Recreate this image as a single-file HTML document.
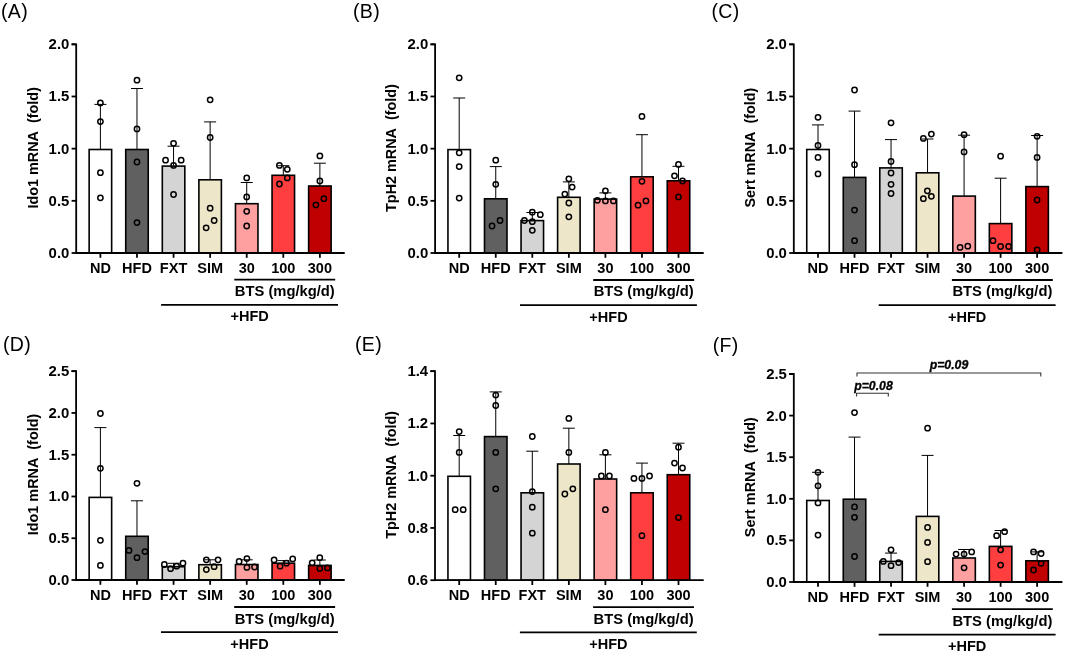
<!DOCTYPE html>
<html><head><meta charset="utf-8"><title>Figure</title>
<style>
html,body{margin:0;padding:0;background:#fff;}
body{width:1065px;height:653px;overflow:hidden;}
svg{display:block;font-family:"Liberation Sans", sans-serif;will-change:transform;}
.pl{font-size:19.5px;font-weight:400;fill:#000;letter-spacing:0.35px;}
.yt{font-size:14.4px;font-weight:700;fill:#000;}
.tl{font-size:14.5px;font-weight:700;fill:#000;}
.tk{font-size:14.9px;font-weight:700;fill:#000;}
.pv{font-size:12.3px;font-weight:700;font-style:italic;fill:#000;stroke:#000;stroke-width:0.3px;}
.ax{stroke:#000;stroke-width:1.8;}
.bar{stroke:#000;stroke-width:1.6;}
.eb{stroke:#000;stroke-width:1.0;}
.br{stroke:#000;stroke-width:1.8;}
.pb{stroke:#333;stroke-width:1.1;}
.dot{fill:none;stroke:#000;stroke-width:1.5;}
</style></head>
<body>
<svg width="1065" height="653" viewBox="0 0 1065 653">
<rect width="1065" height="653" fill="#fff"/>
<text x="1" y="17.8" class="pl">(A)</text>
<text transform="translate(37.7,147.8) rotate(-90)" text-anchor="middle" class="yt">Ido1 mRNA&#160; (fold)</text>
<line x1="100.4" y1="104.4" x2="100.4" y2="149.5" class="eb"/>
<line x1="94.4" y1="104.4" x2="106.4" y2="104.4" class="eb"/>
<rect x="89.15" y="149.5" width="22.5" height="103.5" fill="#ffffff" class="bar"/>
<circle cx="100.4" cy="102.9" r="2.65" class="dot"/>
<circle cx="100.4" cy="121.6" r="2.65" class="dot"/>
<circle cx="100.4" cy="172.7" r="2.65" class="dot"/>
<circle cx="100.4" cy="197.8" r="2.65" class="dot"/>
<line x1="100.4" y1="253" x2="100.4" y2="257.8" class="ax"/>
<text x="100.4" y="272.5" text-anchor="middle" class="tl">ND</text>
<line x1="136.98" y1="88.5" x2="136.98" y2="149.5" class="eb"/>
<line x1="130.98" y1="88.5" x2="142.98" y2="88.5" class="eb"/>
<rect x="125.73" y="149.5" width="22.5" height="103.5" fill="#606060" class="bar"/>
<circle cx="136.98" cy="80.2" r="2.65" class="dot"/>
<circle cx="136.98" cy="128.9" r="2.65" class="dot"/>
<circle cx="136.98" cy="162" r="2.65" class="dot"/>
<circle cx="136.98" cy="222.6" r="2.65" class="dot"/>
<line x1="136.98" y1="253" x2="136.98" y2="257.8" class="ax"/>
<text x="136.98" y="272.5" text-anchor="middle" class="tl">HFD</text>
<line x1="173.56" y1="146.2" x2="173.56" y2="166.1" class="eb"/>
<line x1="167.56" y1="146.2" x2="179.56" y2="146.2" class="eb"/>
<rect x="162.31" y="166.1" width="22.5" height="86.9" fill="#d4d4d4" class="bar"/>
<circle cx="173.56" cy="143.3" r="2.65" class="dot"/>
<circle cx="165.56" cy="160.2" r="2.65" class="dot"/>
<circle cx="181.16" cy="160.2" r="2.65" class="dot"/>
<circle cx="173.56" cy="165.4" r="2.65" class="dot"/>
<circle cx="173.56" cy="194.5" r="2.65" class="dot"/>
<line x1="173.56" y1="253" x2="173.56" y2="257.8" class="ax"/>
<text x="173.56" y="272.5" text-anchor="middle" class="tl">FXT</text>
<line x1="210.14" y1="121.9" x2="210.14" y2="179.8" class="eb"/>
<line x1="204.14" y1="121.9" x2="216.14" y2="121.9" class="eb"/>
<rect x="198.89" y="179.8" width="22.5" height="73.2" fill="#ede6c9" class="bar"/>
<circle cx="210.14" cy="99.8" r="2.65" class="dot"/>
<circle cx="210.14" cy="137.5" r="2.65" class="dot"/>
<circle cx="210.14" cy="208.2" r="2.65" class="dot"/>
<circle cx="214.14" cy="220.5" r="2.65" class="dot"/>
<circle cx="206.14" cy="227.8" r="2.65" class="dot"/>
<line x1="210.14" y1="253" x2="210.14" y2="257.8" class="ax"/>
<text x="210.14" y="272.5" text-anchor="middle" class="tl">SIM</text>
<line x1="246.72" y1="182.5" x2="246.72" y2="203.7" class="eb"/>
<line x1="240.72" y1="182.5" x2="252.72" y2="182.5" class="eb"/>
<rect x="235.47" y="203.7" width="22.5" height="49.3" fill="#ffa0a0" class="bar"/>
<circle cx="246.72" cy="177.9" r="2.65" class="dot"/>
<circle cx="246.72" cy="196.9" r="2.65" class="dot"/>
<circle cx="246.72" cy="211.3" r="2.65" class="dot"/>
<circle cx="246.72" cy="226" r="2.65" class="dot"/>
<line x1="246.72" y1="253" x2="246.72" y2="257.8" class="ax"/>
<text x="246.72" y="272.5" text-anchor="middle" class="tl">30</text>
<line x1="283.3" y1="165.7" x2="283.3" y2="175.3" class="eb"/>
<line x1="277.3" y1="165.7" x2="289.3" y2="165.7" class="eb"/>
<rect x="272.05" y="175.3" width="22.5" height="77.7" fill="#ff3f3f" class="bar"/>
<circle cx="279.4" cy="165.4" r="2.65" class="dot"/>
<circle cx="287.3" cy="169.3" r="2.65" class="dot"/>
<circle cx="287.3" cy="177.9" r="2.65" class="dot"/>
<circle cx="279.4" cy="184" r="2.65" class="dot"/>
<line x1="283.3" y1="253" x2="283.3" y2="257.8" class="ax"/>
<text x="283.3" y="272.5" text-anchor="middle" class="tl">100</text>
<line x1="319.88" y1="163.2" x2="319.88" y2="186" class="eb"/>
<line x1="313.88" y1="163.2" x2="325.88" y2="163.2" class="eb"/>
<rect x="308.63" y="186" width="22.5" height="67" fill="#c00000" class="bar"/>
<circle cx="319.88" cy="155.9" r="2.65" class="dot"/>
<circle cx="319.88" cy="181" r="2.65" class="dot"/>
<circle cx="323.88" cy="198.7" r="2.65" class="dot"/>
<circle cx="315.88" cy="204.9" r="2.65" class="dot"/>
<line x1="319.88" y1="253" x2="319.88" y2="257.8" class="ax"/>
<text x="319.88" y="272.5" text-anchor="middle" class="tl">300</text>
<path d="M71.6 44.3H76.2V253H344.7" class="ax" fill="none"/>
<line x1="71.6" y1="253" x2="76.2" y2="253" class="ax"/>
<text x="69.3" y="257.9" text-anchor="end" class="tk">0.0</text>
<line x1="71.6" y1="200.82" x2="76.2" y2="200.82" class="ax"/>
<text x="69.3" y="205.72" text-anchor="end" class="tk">0.5</text>
<line x1="71.6" y1="148.65" x2="76.2" y2="148.65" class="ax"/>
<text x="69.3" y="153.55" text-anchor="end" class="tk">1.0</text>
<line x1="71.6" y1="96.48" x2="76.2" y2="96.48" class="ax"/>
<text x="69.3" y="101.38" text-anchor="end" class="tk">1.5</text>
<line x1="71.6" y1="44.3" x2="76.2" y2="44.3" class="ax"/>
<text x="69.3" y="49.2" text-anchor="end" class="tk">2.0</text>
<line x1="234.3" y1="279.6" x2="335.2" y2="279.6" class="br"/>
<text x="284.8" y="295.9" text-anchor="middle" class="tl" style="font-size:14.75px">BTS (mg/kg/d)</text>
<line x1="161.1" y1="304.8" x2="338" y2="304.8" class="br"/>
<text x="249.6" y="321.3" text-anchor="middle" class="tl">+HFD</text>
<text x="353" y="17.8" class="pl">(B)</text>
<text transform="translate(395.9,148) rotate(-90)" text-anchor="middle" class="yt">TpH2 mRNA&#160; (fold)</text>
<line x1="459.2" y1="98" x2="459.2" y2="149.6" class="eb"/>
<line x1="453.2" y1="98" x2="465.2" y2="98" class="eb"/>
<rect x="447.95" y="149.6" width="22.5" height="103.4" fill="#ffffff" class="bar"/>
<circle cx="459.2" cy="77.8" r="2.65" class="dot"/>
<circle cx="459.2" cy="152.8" r="2.65" class="dot"/>
<circle cx="459.2" cy="166.6" r="2.65" class="dot"/>
<circle cx="459.2" cy="198.1" r="2.65" class="dot"/>
<line x1="459.2" y1="253" x2="459.2" y2="257.8" class="ax"/>
<text x="459.2" y="272.8" text-anchor="middle" class="tl">ND</text>
<line x1="495.75" y1="166.6" x2="495.75" y2="198.8" class="eb"/>
<line x1="489.75" y1="166.6" x2="501.75" y2="166.6" class="eb"/>
<rect x="484.5" y="198.8" width="22.5" height="54.2" fill="#606060" class="bar"/>
<circle cx="495.75" cy="160.2" r="2.65" class="dot"/>
<circle cx="495.75" cy="184.3" r="2.65" class="dot"/>
<circle cx="500.05" cy="220.5" r="2.65" class="dot"/>
<circle cx="492.05" cy="226" r="2.65" class="dot"/>
<line x1="495.75" y1="253" x2="495.75" y2="257.8" class="ax"/>
<text x="495.75" y="272.8" text-anchor="middle" class="tl">HFD</text>
<line x1="532.3" y1="212.5" x2="532.3" y2="220.6" class="eb"/>
<line x1="526.3" y1="212.5" x2="538.3" y2="212.5" class="eb"/>
<rect x="521.05" y="220.6" width="22.5" height="32.4" fill="#d4d4d4" class="bar"/>
<circle cx="532.3" cy="212.2" r="2.65" class="dot"/>
<circle cx="540.3" cy="214.7" r="2.65" class="dot"/>
<circle cx="524.4" cy="220.5" r="2.65" class="dot"/>
<circle cx="532.3" cy="221.7" r="2.65" class="dot"/>
<circle cx="532.3" cy="230.3" r="2.65" class="dot"/>
<line x1="532.3" y1="253" x2="532.3" y2="257.8" class="ax"/>
<text x="532.3" y="272.8" text-anchor="middle" class="tl">FXT</text>
<line x1="568.85" y1="181.9" x2="568.85" y2="197.3" class="eb"/>
<line x1="562.85" y1="181.9" x2="574.85" y2="181.9" class="eb"/>
<rect x="557.6" y="197.3" width="22.5" height="55.7" fill="#ede6c9" class="bar"/>
<circle cx="568.85" cy="178.8" r="2.65" class="dot"/>
<circle cx="572.15" cy="187.1" r="2.65" class="dot"/>
<circle cx="564.85" cy="194.1" r="2.65" class="dot"/>
<circle cx="568.85" cy="203" r="2.65" class="dot"/>
<circle cx="568.85" cy="216.8" r="2.65" class="dot"/>
<line x1="568.85" y1="253" x2="568.85" y2="257.8" class="ax"/>
<text x="568.85" y="272.8" text-anchor="middle" class="tl">SIM</text>
<line x1="605.4" y1="192.9" x2="605.4" y2="199.1" class="eb"/>
<line x1="599.4" y1="192.9" x2="611.4" y2="192.9" class="eb"/>
<rect x="594.15" y="199.1" width="22.5" height="53.9" fill="#ffa0a0" class="bar"/>
<circle cx="605.4" cy="190.8" r="2.65" class="dot"/>
<circle cx="597.4" cy="200.3" r="2.65" class="dot"/>
<circle cx="605.4" cy="200.9" r="2.65" class="dot"/>
<circle cx="613.4" cy="200.9" r="2.65" class="dot"/>
<line x1="605.4" y1="253" x2="605.4" y2="257.8" class="ax"/>
<text x="605.4" y="272.8" text-anchor="middle" class="tl">30</text>
<line x1="641.95" y1="134.7" x2="641.95" y2="176.8" class="eb"/>
<line x1="635.95" y1="134.7" x2="647.95" y2="134.7" class="eb"/>
<rect x="630.7" y="176.8" width="22.5" height="76.2" fill="#ff3f3f" class="bar"/>
<circle cx="641.95" cy="116.4" r="2.65" class="dot"/>
<circle cx="641.95" cy="181.3" r="2.65" class="dot"/>
<circle cx="645.95" cy="200.9" r="2.65" class="dot"/>
<circle cx="638.05" cy="205.2" r="2.65" class="dot"/>
<line x1="641.95" y1="253" x2="641.95" y2="257.8" class="ax"/>
<text x="641.95" y="272.8" text-anchor="middle" class="tl">100</text>
<line x1="678.5" y1="166.3" x2="678.5" y2="180.8" class="eb"/>
<line x1="672.5" y1="166.3" x2="684.5" y2="166.3" class="eb"/>
<rect x="667.25" y="180.8" width="22.5" height="72.2" fill="#c00000" class="bar"/>
<circle cx="678.5" cy="164.4" r="2.65" class="dot"/>
<circle cx="674.5" cy="175.8" r="2.65" class="dot"/>
<circle cx="682.5" cy="181" r="2.65" class="dot"/>
<circle cx="678.5" cy="196.9" r="2.65" class="dot"/>
<line x1="678.5" y1="253" x2="678.5" y2="257.8" class="ax"/>
<text x="678.5" y="272.8" text-anchor="middle" class="tl">300</text>
<path d="M430.5 44.3H435.1V253H703.7" class="ax" fill="none"/>
<line x1="430.5" y1="253" x2="435.1" y2="253" class="ax"/>
<text x="428.2" y="257.9" text-anchor="end" class="tk">0.0</text>
<line x1="430.5" y1="200.82" x2="435.1" y2="200.82" class="ax"/>
<text x="428.2" y="205.72" text-anchor="end" class="tk">0.5</text>
<line x1="430.5" y1="148.65" x2="435.1" y2="148.65" class="ax"/>
<text x="428.2" y="153.55" text-anchor="end" class="tk">1.0</text>
<line x1="430.5" y1="96.48" x2="435.1" y2="96.48" class="ax"/>
<text x="428.2" y="101.38" text-anchor="end" class="tk">1.5</text>
<line x1="430.5" y1="44.3" x2="435.1" y2="44.3" class="ax"/>
<text x="428.2" y="49.2" text-anchor="end" class="tk">2.0</text>
<line x1="593.2" y1="280" x2="694.1" y2="280" class="br"/>
<text x="643.7" y="296.4" text-anchor="middle" class="tl" style="font-size:14.75px">BTS (mg/kg/d)</text>
<line x1="520" y1="305.2" x2="696.9" y2="305.2" class="br"/>
<text x="608.5" y="321.6" text-anchor="middle" class="tl">+HFD</text>
<text x="711.5" y="17.8" class="pl">(C)</text>
<text transform="translate(755.3,147.6) rotate(-90)" text-anchor="middle" class="yt">Sert mRNA&#160; (fold)</text>
<line x1="818" y1="124.9" x2="818" y2="149.5" class="eb"/>
<line x1="812" y1="124.9" x2="824" y2="124.9" class="eb"/>
<rect x="806.75" y="149.5" width="22.5" height="103.5" fill="#ffffff" class="bar"/>
<circle cx="818" cy="117.3" r="2.65" class="dot"/>
<circle cx="818" cy="145.5" r="2.65" class="dot"/>
<circle cx="818" cy="157.4" r="2.65" class="dot"/>
<circle cx="818" cy="173.9" r="2.65" class="dot"/>
<line x1="818" y1="253" x2="818" y2="257.8" class="ax"/>
<text x="818" y="272.8" text-anchor="middle" class="tl">ND</text>
<line x1="854.52" y1="111.1" x2="854.52" y2="177.4" class="eb"/>
<line x1="848.52" y1="111.1" x2="860.52" y2="111.1" class="eb"/>
<rect x="843.27" y="177.4" width="22.5" height="75.6" fill="#606060" class="bar"/>
<circle cx="854.52" cy="90" r="2.65" class="dot"/>
<circle cx="854.52" cy="164.7" r="2.65" class="dot"/>
<circle cx="854.52" cy="210.1" r="2.65" class="dot"/>
<circle cx="854.52" cy="240.7" r="2.65" class="dot"/>
<line x1="854.52" y1="253" x2="854.52" y2="257.8" class="ax"/>
<text x="854.52" y="272.8" text-anchor="middle" class="tl">HFD</text>
<line x1="891.04" y1="139.6" x2="891.04" y2="167.9" class="eb"/>
<line x1="885.04" y1="139.6" x2="897.04" y2="139.6" class="eb"/>
<rect x="879.79" y="167.9" width="22.5" height="85.1" fill="#d4d4d4" class="bar"/>
<circle cx="891.04" cy="122.8" r="2.65" class="dot"/>
<circle cx="891.04" cy="161.4" r="2.65" class="dot"/>
<circle cx="891.04" cy="173" r="2.65" class="dot"/>
<circle cx="891.04" cy="184.3" r="2.65" class="dot"/>
<circle cx="891.04" cy="193.5" r="2.65" class="dot"/>
<line x1="891.04" y1="253" x2="891.04" y2="257.8" class="ax"/>
<text x="891.04" y="272.8" text-anchor="middle" class="tl">FXT</text>
<line x1="927.56" y1="139" x2="927.56" y2="172.8" class="eb"/>
<line x1="921.56" y1="139" x2="933.56" y2="139" class="eb"/>
<rect x="916.31" y="172.8" width="22.5" height="80.2" fill="#ede6c9" class="bar"/>
<circle cx="923.36" cy="138.4" r="2.65" class="dot"/>
<circle cx="931.36" cy="134.1" r="2.65" class="dot"/>
<circle cx="927.36" cy="190.8" r="2.65" class="dot"/>
<circle cx="931.36" cy="196.3" r="2.65" class="dot"/>
<circle cx="923.36" cy="198.7" r="2.65" class="dot"/>
<line x1="927.56" y1="253" x2="927.56" y2="257.8" class="ax"/>
<text x="927.56" y="272.8" text-anchor="middle" class="tl">SIM</text>
<line x1="964.08" y1="135.2" x2="964.08" y2="196.1" class="eb"/>
<line x1="958.08" y1="135.2" x2="970.08" y2="135.2" class="eb"/>
<rect x="952.83" y="196.1" width="22.5" height="56.9" fill="#ffa0a0" class="bar"/>
<circle cx="964.08" cy="134.7" r="2.65" class="dot"/>
<circle cx="964.08" cy="151.9" r="2.65" class="dot"/>
<circle cx="960.08" cy="247.4" r="2.65" class="dot"/>
<circle cx="967.78" cy="246.2" r="2.65" class="dot"/>
<line x1="964.08" y1="253" x2="964.08" y2="257.8" class="ax"/>
<text x="964.08" y="272.8" text-anchor="middle" class="tl">30</text>
<line x1="1000.6" y1="178.2" x2="1000.6" y2="223.6" class="eb"/>
<line x1="994.6" y1="178.2" x2="1006.6" y2="178.2" class="eb"/>
<rect x="989.35" y="223.6" width="22.5" height="29.4" fill="#ff3f3f" class="bar"/>
<circle cx="1000.6" cy="156.2" r="2.65" class="dot"/>
<circle cx="993" cy="240.7" r="2.65" class="dot"/>
<circle cx="1000.6" cy="246.5" r="2.65" class="dot"/>
<circle cx="1008.6" cy="246.5" r="2.65" class="dot"/>
<line x1="1000.6" y1="253" x2="1000.6" y2="257.8" class="ax"/>
<text x="1000.6" y="272.8" text-anchor="middle" class="tl">100</text>
<line x1="1037.12" y1="135.5" x2="1037.12" y2="186.6" class="eb"/>
<line x1="1031.12" y1="135.5" x2="1043.12" y2="135.5" class="eb"/>
<rect x="1025.87" y="186.6" width="22.5" height="66.4" fill="#c00000" class="bar"/>
<circle cx="1037.12" cy="136.3" r="2.65" class="dot"/>
<circle cx="1037.12" cy="157.4" r="2.65" class="dot"/>
<circle cx="1037.12" cy="200" r="2.65" class="dot"/>
<circle cx="1037.12" cy="249.9" r="2.65" class="dot"/>
<line x1="1037.12" y1="253" x2="1037.12" y2="257.8" class="ax"/>
<text x="1037.12" y="272.8" text-anchor="middle" class="tl">300</text>
<path d="M789.2 44.3H793.8V253H1062.4" class="ax" fill="none"/>
<line x1="789.2" y1="253" x2="793.8" y2="253" class="ax"/>
<text x="786.9" y="257.9" text-anchor="end" class="tk">0.0</text>
<line x1="789.2" y1="200.82" x2="793.8" y2="200.82" class="ax"/>
<text x="786.9" y="205.72" text-anchor="end" class="tk">0.5</text>
<line x1="789.2" y1="148.65" x2="793.8" y2="148.65" class="ax"/>
<text x="786.9" y="153.55" text-anchor="end" class="tk">1.0</text>
<line x1="789.2" y1="96.48" x2="793.8" y2="96.48" class="ax"/>
<text x="786.9" y="101.38" text-anchor="end" class="tk">1.5</text>
<line x1="789.2" y1="44.3" x2="793.8" y2="44.3" class="ax"/>
<text x="786.9" y="49.2" text-anchor="end" class="tk">2.0</text>
<line x1="951.9" y1="280" x2="1052.8" y2="280" class="br"/>
<text x="1002.4" y="296.4" text-anchor="middle" class="tl" style="font-size:14.75px">BTS (mg/kg/d)</text>
<line x1="878.7" y1="305.2" x2="1055.6" y2="305.2" class="br"/>
<text x="967.2" y="321.6" text-anchor="middle" class="tl">+HFD</text>
<text x="3" y="351.3" class="pl">(D)</text>
<text transform="translate(37.9,474.5) rotate(-90)" text-anchor="middle" class="yt">Ido1 mRNA&#160; (fold)</text>
<line x1="100.4" y1="427.6" x2="100.4" y2="497.4" class="eb"/>
<line x1="94.4" y1="427.6" x2="106.4" y2="427.6" class="eb"/>
<rect x="89.15" y="497.4" width="22.5" height="82.6" fill="#ffffff" class="bar"/>
<circle cx="100.4" cy="413.5" r="2.65" class="dot"/>
<circle cx="100.4" cy="468.3" r="2.65" class="dot"/>
<circle cx="100.4" cy="540.3" r="2.65" class="dot"/>
<circle cx="100.4" cy="565.4" r="2.65" class="dot"/>
<line x1="100.4" y1="580" x2="100.4" y2="584.8" class="ax"/>
<text x="100.4" y="600.2" text-anchor="middle" class="tl">ND</text>
<line x1="136.98" y1="500.8" x2="136.98" y2="536.3" class="eb"/>
<line x1="130.98" y1="500.8" x2="142.98" y2="500.8" class="eb"/>
<rect x="125.73" y="536.3" width="22.5" height="43.7" fill="#606060" class="bar"/>
<circle cx="136.98" cy="483.3" r="2.65" class="dot"/>
<circle cx="128.98" cy="550.4" r="2.65" class="dot"/>
<circle cx="144.98" cy="551.6" r="2.65" class="dot"/>
<circle cx="136.98" cy="557.7" r="2.65" class="dot"/>
<line x1="136.98" y1="580" x2="136.98" y2="584.8" class="ax"/>
<text x="136.98" y="600.2" text-anchor="middle" class="tl">HFD</text>
<line x1="173.56" y1="563.3" x2="173.56" y2="566.7" class="eb"/>
<line x1="167.56" y1="563.3" x2="179.56" y2="563.3" class="eb"/>
<rect x="162.31" y="566.7" width="22.5" height="13.3" fill="#d4d4d4" class="bar"/>
<circle cx="164.36" cy="564.5" r="2.65" class="dot"/>
<circle cx="170.56" cy="568.7" r="2.65" class="dot"/>
<circle cx="176.66" cy="566.2" r="2.65" class="dot"/>
<circle cx="182.96" cy="563.2" r="2.65" class="dot"/>
<line x1="173.56" y1="580" x2="173.56" y2="584.8" class="ax"/>
<text x="173.56" y="600.2" text-anchor="middle" class="tl">FXT</text>
<line x1="210.14" y1="559.8" x2="210.14" y2="564.7" class="eb"/>
<line x1="204.14" y1="559.8" x2="216.14" y2="559.8" class="eb"/>
<rect x="198.89" y="564.7" width="22.5" height="15.3" fill="#ede6c9" class="bar"/>
<circle cx="206.34" cy="559.8" r="2.65" class="dot"/>
<circle cx="218.04" cy="559.8" r="2.65" class="dot"/>
<circle cx="206.34" cy="569.6" r="2.65" class="dot"/>
<circle cx="214.14" cy="566.7" r="2.65" class="dot"/>
<line x1="210.14" y1="580" x2="210.14" y2="584.8" class="ax"/>
<text x="210.14" y="600.2" text-anchor="middle" class="tl">SIM</text>
<line x1="246.72" y1="559.8" x2="246.72" y2="564.5" class="eb"/>
<line x1="240.72" y1="559.8" x2="252.72" y2="559.8" class="eb"/>
<rect x="235.47" y="564.5" width="22.5" height="15.5" fill="#ffa0a0" class="bar"/>
<circle cx="239.12" cy="561.5" r="2.65" class="dot"/>
<circle cx="246.92" cy="558.6" r="2.65" class="dot"/>
<circle cx="246.92" cy="567.4" r="2.65" class="dot"/>
<circle cx="254.52" cy="567" r="2.65" class="dot"/>
<line x1="246.72" y1="580" x2="246.72" y2="584.8" class="ax"/>
<text x="246.72" y="600.2" text-anchor="middle" class="tl">30</text>
<line x1="283.3" y1="560.6" x2="283.3" y2="563.2" class="eb"/>
<line x1="277.3" y1="560.6" x2="289.3" y2="560.6" class="eb"/>
<rect x="272.05" y="563.2" width="22.5" height="16.8" fill="#ff3f3f" class="bar"/>
<circle cx="274.1" cy="559.9" r="2.65" class="dot"/>
<circle cx="292.7" cy="558.9" r="2.65" class="dot"/>
<circle cx="280.1" cy="566.2" r="2.65" class="dot"/>
<circle cx="286.5" cy="563.2" r="2.65" class="dot"/>
<line x1="283.3" y1="580" x2="283.3" y2="584.8" class="ax"/>
<text x="283.3" y="600.2" text-anchor="middle" class="tl">100</text>
<line x1="319.88" y1="560" x2="319.88" y2="565.4" class="eb"/>
<line x1="313.88" y1="560" x2="325.88" y2="560" class="eb"/>
<rect x="308.63" y="565.4" width="22.5" height="14.6" fill="#c00000" class="bar"/>
<circle cx="312.18" cy="562.8" r="2.65" class="dot"/>
<circle cx="319.78" cy="557.7" r="2.65" class="dot"/>
<circle cx="319.78" cy="568.4" r="2.65" class="dot"/>
<circle cx="327.38" cy="567.9" r="2.65" class="dot"/>
<line x1="319.88" y1="580" x2="319.88" y2="584.8" class="ax"/>
<text x="319.88" y="600.2" text-anchor="middle" class="tl">300</text>
<path d="M71.5 371.2H76.1V580H344.7" class="ax" fill="none"/>
<line x1="71.5" y1="580" x2="76.1" y2="580" class="ax"/>
<text x="69.2" y="584.9" text-anchor="end" class="tk">0.0</text>
<line x1="71.5" y1="538.24" x2="76.1" y2="538.24" class="ax"/>
<text x="69.2" y="543.14" text-anchor="end" class="tk">0.5</text>
<line x1="71.5" y1="496.48" x2="76.1" y2="496.48" class="ax"/>
<text x="69.2" y="501.38" text-anchor="end" class="tk">1.0</text>
<line x1="71.5" y1="454.72" x2="76.1" y2="454.72" class="ax"/>
<text x="69.2" y="459.62" text-anchor="end" class="tk">1.5</text>
<line x1="71.5" y1="412.96" x2="76.1" y2="412.96" class="ax"/>
<text x="69.2" y="417.86" text-anchor="end" class="tk">2.0</text>
<line x1="71.5" y1="371.2" x2="76.1" y2="371.2" class="ax"/>
<text x="69.2" y="376.1" text-anchor="end" class="tk">2.5</text>
<line x1="234.2" y1="607" x2="335.1" y2="607" class="br"/>
<text x="284.7" y="623.5" text-anchor="middle" class="tl" style="font-size:14.75px">BTS (mg/kg/d)</text>
<line x1="161" y1="632.1" x2="337.9" y2="632.1" class="br"/>
<text x="249.5" y="648.8" text-anchor="middle" class="tl">+HFD</text>
<text x="355" y="351.4" class="pl">(E)</text>
<text transform="translate(396.1,474.8) rotate(-90)" text-anchor="middle" class="yt">TpH2 mRNA&#160; (fold)</text>
<line x1="459.2" y1="435.5" x2="459.2" y2="476.3" class="eb"/>
<line x1="453.2" y1="435.5" x2="465.2" y2="435.5" class="eb"/>
<rect x="447.95" y="476.3" width="22.5" height="103.9" fill="#ffffff" class="bar"/>
<circle cx="459.2" cy="431.6" r="2.65" class="dot"/>
<circle cx="459.2" cy="452.4" r="2.65" class="dot"/>
<circle cx="455.2" cy="509.7" r="2.65" class="dot"/>
<circle cx="463.2" cy="509.7" r="2.65" class="dot"/>
<line x1="459.2" y1="580.2" x2="459.2" y2="585" class="ax"/>
<text x="459.2" y="600.2" text-anchor="middle" class="tl">ND</text>
<line x1="495.75" y1="391.9" x2="495.75" y2="436.6" class="eb"/>
<line x1="489.75" y1="391.9" x2="501.75" y2="391.9" class="eb"/>
<rect x="484.5" y="436.6" width="22.5" height="143.6" fill="#606060" class="bar"/>
<circle cx="495.75" cy="395.1" r="2.65" class="dot"/>
<circle cx="495.75" cy="405.5" r="2.65" class="dot"/>
<circle cx="495.75" cy="452.4" r="2.65" class="dot"/>
<circle cx="495.75" cy="488.8" r="2.65" class="dot"/>
<line x1="495.75" y1="580.2" x2="495.75" y2="585" class="ax"/>
<text x="495.75" y="600.2" text-anchor="middle" class="tl">HFD</text>
<line x1="532.3" y1="451.2" x2="532.3" y2="492.8" class="eb"/>
<line x1="526.3" y1="451.2" x2="538.3" y2="451.2" class="eb"/>
<rect x="521.05" y="492.8" width="22.5" height="87.4" fill="#d4d4d4" class="bar"/>
<circle cx="532.3" cy="436.5" r="2.65" class="dot"/>
<circle cx="532.3" cy="491.6" r="2.65" class="dot"/>
<circle cx="532.3" cy="507.2" r="2.65" class="dot"/>
<circle cx="532.3" cy="533.2" r="2.65" class="dot"/>
<line x1="532.3" y1="580.2" x2="532.3" y2="585" class="ax"/>
<text x="532.3" y="600.2" text-anchor="middle" class="tl">FXT</text>
<line x1="568.85" y1="428.2" x2="568.85" y2="464" class="eb"/>
<line x1="562.85" y1="428.2" x2="574.85" y2="428.2" class="eb"/>
<rect x="557.6" y="464" width="22.5" height="116.2" fill="#ede6c9" class="bar"/>
<circle cx="568.85" cy="418.4" r="2.65" class="dot"/>
<circle cx="568.85" cy="452.4" r="2.65" class="dot"/>
<circle cx="572.85" cy="488.8" r="2.65" class="dot"/>
<circle cx="564.85" cy="494" r="2.65" class="dot"/>
<line x1="568.85" y1="580.2" x2="568.85" y2="585" class="ax"/>
<text x="568.85" y="600.2" text-anchor="middle" class="tl">SIM</text>
<line x1="605.4" y1="454.8" x2="605.4" y2="479" class="eb"/>
<line x1="599.4" y1="454.8" x2="611.4" y2="454.8" class="eb"/>
<rect x="594.15" y="479" width="22.5" height="101.2" fill="#ffa0a0" class="bar"/>
<circle cx="605.4" cy="452.4" r="2.65" class="dot"/>
<circle cx="601.4" cy="476" r="2.65" class="dot"/>
<circle cx="609.4" cy="476" r="2.65" class="dot"/>
<circle cx="605.4" cy="509.7" r="2.65" class="dot"/>
<line x1="605.4" y1="580.2" x2="605.4" y2="585" class="ax"/>
<text x="605.4" y="600.2" text-anchor="middle" class="tl">30</text>
<line x1="641.95" y1="463.1" x2="641.95" y2="492.8" class="eb"/>
<line x1="635.95" y1="463.1" x2="647.95" y2="463.1" class="eb"/>
<rect x="630.7" y="492.8" width="22.5" height="87.4" fill="#ff3f3f" class="bar"/>
<circle cx="633.95" cy="478.4" r="2.65" class="dot"/>
<circle cx="641.95" cy="478.4" r="2.65" class="dot"/>
<circle cx="649.55" cy="476" r="2.65" class="dot"/>
<circle cx="641.95" cy="535.7" r="2.65" class="dot"/>
<line x1="641.95" y1="580.2" x2="641.95" y2="585" class="ax"/>
<text x="641.95" y="600.2" text-anchor="middle" class="tl">100</text>
<line x1="678.5" y1="443.2" x2="678.5" y2="474.7" class="eb"/>
<line x1="672.5" y1="443.2" x2="684.5" y2="443.2" class="eb"/>
<rect x="667.25" y="474.7" width="22.5" height="105.5" fill="#c00000" class="bar"/>
<circle cx="678.5" cy="447.2" r="2.65" class="dot"/>
<circle cx="674.5" cy="463.1" r="2.65" class="dot"/>
<circle cx="682.5" cy="468" r="2.65" class="dot"/>
<circle cx="678.5" cy="517.6" r="2.65" class="dot"/>
<line x1="678.5" y1="580.2" x2="678.5" y2="585" class="ax"/>
<text x="678.5" y="600.2" text-anchor="middle" class="tl">300</text>
<path d="M430.4 371.2H435V580.2H703.7" class="ax" fill="none"/>
<line x1="430.4" y1="580.2" x2="435" y2="580.2" class="ax"/>
<text x="428.1" y="585.1" text-anchor="end" class="tk">0.6</text>
<line x1="430.4" y1="527.95" x2="435" y2="527.95" class="ax"/>
<text x="428.1" y="532.85" text-anchor="end" class="tk">0.8</text>
<line x1="430.4" y1="475.7" x2="435" y2="475.7" class="ax"/>
<text x="428.1" y="480.6" text-anchor="end" class="tk">1.0</text>
<line x1="430.4" y1="423.45" x2="435" y2="423.45" class="ax"/>
<text x="428.1" y="428.35" text-anchor="end" class="tk">1.2</text>
<line x1="430.4" y1="371.2" x2="435" y2="371.2" class="ax"/>
<text x="428.1" y="376.1" text-anchor="end" class="tk">1.4</text>
<line x1="593.1" y1="607.2" x2="694" y2="607.2" class="br"/>
<text x="643.6" y="623.5" text-anchor="middle" class="tl" style="font-size:14.75px">BTS (mg/kg/d)</text>
<line x1="519.9" y1="632.3" x2="696.8" y2="632.3" class="br"/>
<text x="608.4" y="648.8" text-anchor="middle" class="tl">+HFD</text>
<text x="712.7" y="351.5" class="pl">(F)</text>
<text transform="translate(755.2,477.2) rotate(-90)" text-anchor="middle" class="yt">Sert mRNA&#160; (fold)</text>
<line x1="818" y1="472.3" x2="818" y2="500.5" class="eb"/>
<line x1="812" y1="472.3" x2="824" y2="472.3" class="eb"/>
<rect x="806.75" y="500.5" width="22.5" height="81.5" fill="#ffffff" class="bar"/>
<circle cx="818" cy="472.3" r="2.65" class="dot"/>
<circle cx="818" cy="485.8" r="2.65" class="dot"/>
<circle cx="818" cy="502.9" r="2.65" class="dot"/>
<circle cx="818" cy="535.1" r="2.65" class="dot"/>
<line x1="818" y1="582" x2="818" y2="586.8" class="ax"/>
<text x="818" y="602.3" text-anchor="middle" class="tl">ND</text>
<line x1="854.52" y1="437.1" x2="854.52" y2="499.2" class="eb"/>
<line x1="848.52" y1="437.1" x2="860.52" y2="437.1" class="eb"/>
<rect x="843.27" y="499.2" width="22.5" height="82.8" fill="#606060" class="bar"/>
<circle cx="854.52" cy="412.6" r="2.65" class="dot"/>
<circle cx="854.52" cy="506.9" r="2.65" class="dot"/>
<circle cx="854.52" cy="517.3" r="2.65" class="dot"/>
<circle cx="854.52" cy="556.5" r="2.65" class="dot"/>
<line x1="854.52" y1="582" x2="854.52" y2="586.8" class="ax"/>
<text x="854.52" y="602.3" text-anchor="middle" class="tl">HFD</text>
<line x1="891.04" y1="553.1" x2="891.04" y2="561.4" class="eb"/>
<line x1="885.04" y1="553.1" x2="897.04" y2="553.1" class="eb"/>
<rect x="879.79" y="561.4" width="22.5" height="20.6" fill="#d4d4d4" class="bar"/>
<circle cx="891.04" cy="549.8" r="2.65" class="dot"/>
<circle cx="883.34" cy="561.4" r="2.65" class="dot"/>
<circle cx="898.64" cy="562.6" r="2.65" class="dot"/>
<circle cx="891.04" cy="565.7" r="2.65" class="dot"/>
<line x1="891.04" y1="582" x2="891.04" y2="586.8" class="ax"/>
<text x="891.04" y="602.3" text-anchor="middle" class="tl">FXT</text>
<line x1="927.56" y1="455.4" x2="927.56" y2="516.4" class="eb"/>
<line x1="921.56" y1="455.4" x2="933.56" y2="455.4" class="eb"/>
<rect x="916.31" y="516.4" width="22.5" height="65.6" fill="#ede6c9" class="bar"/>
<circle cx="927.56" cy="428.2" r="2.65" class="dot"/>
<circle cx="927.56" cy="527.4" r="2.65" class="dot"/>
<circle cx="927.56" cy="542.4" r="2.65" class="dot"/>
<circle cx="927.56" cy="561.7" r="2.65" class="dot"/>
<line x1="927.56" y1="582" x2="927.56" y2="586.8" class="ax"/>
<text x="927.56" y="602.3" text-anchor="middle" class="tl">SIM</text>
<line x1="964.08" y1="549.5" x2="964.08" y2="558" class="eb"/>
<line x1="958.08" y1="549.5" x2="970.08" y2="549.5" class="eb"/>
<rect x="952.83" y="558" width="22.5" height="24" fill="#ffa0a0" class="bar"/>
<circle cx="956.08" cy="554.1" r="2.65" class="dot"/>
<circle cx="964.08" cy="554.1" r="2.65" class="dot"/>
<circle cx="971.68" cy="551.9" r="2.65" class="dot"/>
<circle cx="964.08" cy="567.8" r="2.65" class="dot"/>
<line x1="964.08" y1="582" x2="964.08" y2="586.8" class="ax"/>
<text x="964.08" y="602.3" text-anchor="middle" class="tl">30</text>
<line x1="1000.6" y1="530.5" x2="1000.6" y2="546.4" class="eb"/>
<line x1="994.6" y1="530.5" x2="1006.6" y2="530.5" class="eb"/>
<rect x="989.35" y="546.4" width="22.5" height="35.6" fill="#ff3f3f" class="bar"/>
<circle cx="1004.6" cy="531.7" r="2.65" class="dot"/>
<circle cx="996.6" cy="535.7" r="2.65" class="dot"/>
<circle cx="1000.6" cy="549.8" r="2.65" class="dot"/>
<circle cx="1000.6" cy="565.1" r="2.65" class="dot"/>
<line x1="1000.6" y1="582" x2="1000.6" y2="586.8" class="ax"/>
<text x="1000.6" y="602.3" text-anchor="middle" class="tl">100</text>
<line x1="1037.12" y1="551.9" x2="1037.12" y2="560.8" class="eb"/>
<line x1="1031.12" y1="551.9" x2="1043.12" y2="551.9" class="eb"/>
<rect x="1025.87" y="560.8" width="22.5" height="21.2" fill="#c00000" class="bar"/>
<circle cx="1033.52" cy="551.9" r="2.65" class="dot"/>
<circle cx="1041.12" cy="553.5" r="2.65" class="dot"/>
<circle cx="1041.12" cy="563.3" r="2.65" class="dot"/>
<circle cx="1033.52" cy="570" r="2.65" class="dot"/>
<line x1="1037.12" y1="582" x2="1037.12" y2="586.8" class="ax"/>
<text x="1037.12" y="602.3" text-anchor="middle" class="tl">300</text>
<path d="M789.2 374H793.8V582H1062.4" class="ax" fill="none"/>
<line x1="789.2" y1="582" x2="793.8" y2="582" class="ax"/>
<text x="786.9" y="586.9" text-anchor="end" class="tk">0.0</text>
<line x1="789.2" y1="540.4" x2="793.8" y2="540.4" class="ax"/>
<text x="786.9" y="545.3" text-anchor="end" class="tk">0.5</text>
<line x1="789.2" y1="498.8" x2="793.8" y2="498.8" class="ax"/>
<text x="786.9" y="503.7" text-anchor="end" class="tk">1.0</text>
<line x1="789.2" y1="457.2" x2="793.8" y2="457.2" class="ax"/>
<text x="786.9" y="462.1" text-anchor="end" class="tk">1.5</text>
<line x1="789.2" y1="415.6" x2="793.8" y2="415.6" class="ax"/>
<text x="786.9" y="420.5" text-anchor="end" class="tk">2.0</text>
<line x1="789.2" y1="374" x2="793.8" y2="374" class="ax"/>
<text x="786.9" y="378.9" text-anchor="end" class="tk">2.5</text>
<line x1="951.9" y1="609.2" x2="1052.8" y2="609.2" class="br"/>
<text x="1002.4" y="626" text-anchor="middle" class="tl" style="font-size:14.75px">BTS (mg/kg/d)</text>
<line x1="878.7" y1="634.6" x2="1055.6" y2="634.6" class="br"/>
<text x="967.2" y="650.6" text-anchor="middle" class="tl">+HFD</text>
<path d="M857 376.4V373H1040.8V376.4" class="pb" fill="none"/>
<text x="949" y="369" text-anchor="middle" class="pv">p=0.09</text>
<path d="M856.6 396.6V393.3H888.3V396.6" class="pb" fill="none"/>
<text x="873.5" y="389.8" text-anchor="middle" class="pv">p=0.08</text>
</svg>
</body></html>
